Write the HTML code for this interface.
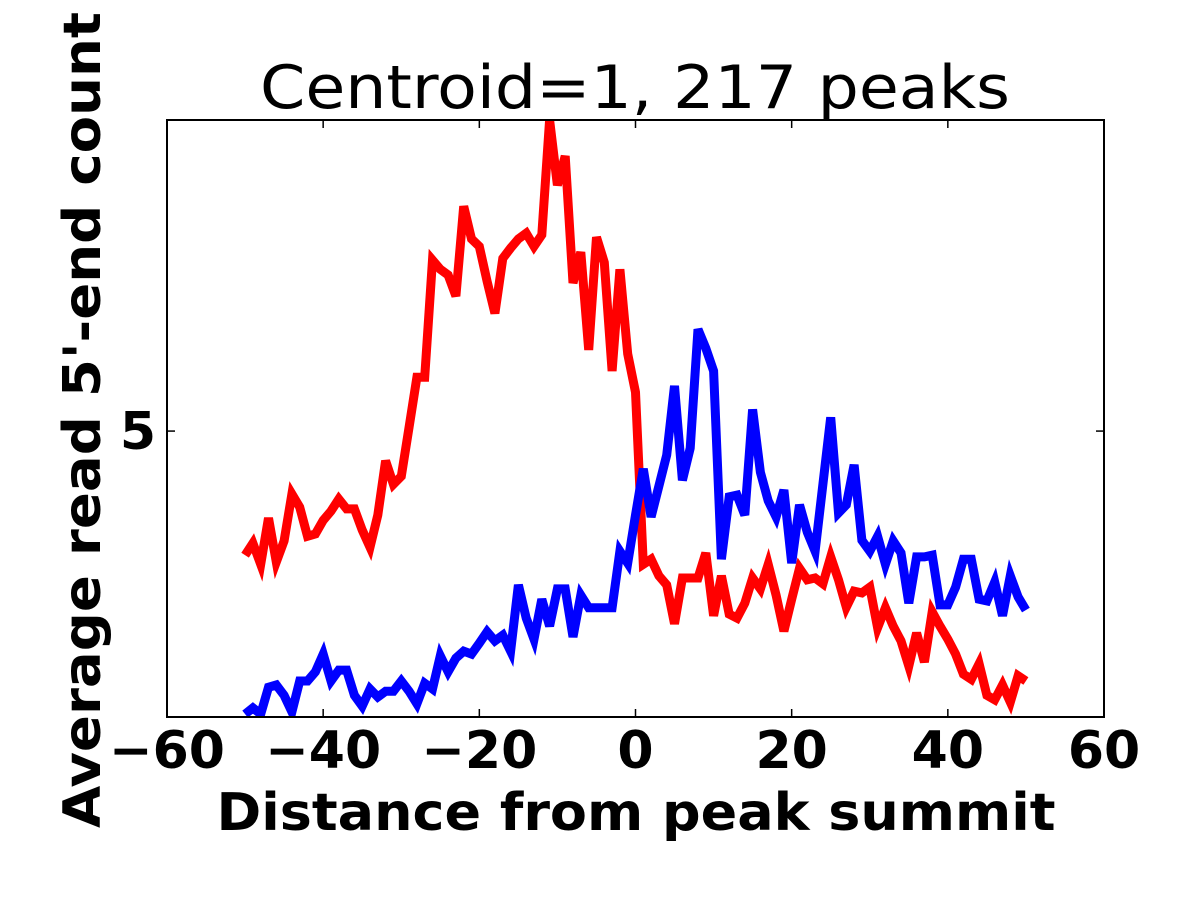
<!DOCTYPE html>
<html><head><meta charset="utf-8"><style>
html,body{margin:0;padding:0;background:#fff;}
svg{display:block;}
text{font-family:"DejaVu Sans","Liberation Sans",sans-serif;}
</style></head><body>
<svg id="chart" width="1200" height="900" viewBox="0 0 1200 900" xmlns="http://www.w3.org/2000/svg">
<rect width="1200" height="900" fill="#fff"/>
<text x="635" y="108" font-size="60" text-anchor="middle" textLength="750" lengthAdjust="spacingAndGlyphs">Centroid=1, 217 peaks</text>
<g id="plot"></g>
<rect x="167" y="120" width="937" height="597" fill="none" stroke="#000" stroke-width="2"/>
<text x="636" y="830" font-size="52" font-weight="bold" text-anchor="middle" textLength="839" lengthAdjust="spacingAndGlyphs">Distance from peak summit</text>
<text transform="translate(100,420) rotate(-90)" font-size="52" font-weight="bold" text-anchor="middle" textLength="816" lengthAdjust="spacingAndGlyphs">Average read 5'-end count</text>
</svg>
<script>
const xTicks = [-60, -40, -20, 0, 20, 40, 60];
const yTicks = [5];
const positions = [];
for (let i = -50; i <= 50; i++) positions.push(i);
const redValues = [2.83,3.04,2.67,3.48,2.71,3.08,3.90,3.67,3.16,3.20,3.44,3.60,3.81,3.64,3.64,3.27,2.97,3.53,4.48,4.07,4.21,5.07,5.94,5.94,7.99,7.83,7.73,7.36,8.93,8.36,8.23,7.62,7.06,8.02,8.20,8.36,8.46,8.23,8.43,10.44,9.30,9.81,7.59,8.13,6.42,8.39,7.95,6.05,7.83,6.35,5.68,
2.67,2.76,2.47,2.31,1.63,2.43,2.43,2.43,2.87,1.77,2.47,1.80,1.73,1.99,2.43,2.24,2.67,2.13,1.50,2.06,2.60,2.40,2.43,2.33,2.80,2.40,1.92,2.20,2.17,2.27,1.56,1.91,1.59,1.33,0.89,1.47,0.96,1.84,1.59,1.36,1.10,0.75,0.66,0.93,0.38,0.30,0.56,0.26,0.72,0.63];
const blueValues = [0.05,0.16,0.05,0.52,0.56,0.38,0.09,0.63,0.63,0.79,1.10,0.63,0.82,0.82,0.38,0.19,0.49,0.35,0.45,0.45,0.63,0.45,0.23,0.59,0.49,1.07,0.79,1.03,1.15,1.10,1.29,1.49,1.33,1.43,1.15,2.31,1.73,1.36,2.06,1.59,2.24,2.24,1.40,2.13,1.91,1.91,1.91,1.91,2.90,2.69,3.53,
4.34,3.50,4.04,4.58,5.79,4.14,4.70,6.78,6.45,6.05,2.76,3.85,3.88,3.53,5.38,4.28,3.78,3.50,3.97,2.69,3.71,3.23,2.90,4.07,5.24,3.57,3.71,4.41,3.09,2.90,3.16,2.67,3.08,2.87,1.99,2.80,2.80,2.83,1.96,1.96,2.27,2.76,2.76,2.06,2.03,2.36,1.77,2.47,2.10,1.87];

const NS = "http://www.w3.org/2000/svg";
const L = 167, R = 1104, T = 120, B = 717;
const xMin = -60, xMax = 60;
const yMin = 0, yMax = Math.max(...redValues, ...blueValues);
const xs = v => L + (v - xMin) / (xMax - xMin) * (R - L);
const ys = v => B - (v - yMin) / (yMax - yMin) * (B - T);
const svg = document.getElementById('chart');
const plot = document.getElementById('plot');

function mk(tag, attrs, parent) {
  const e = document.createElementNS(NS, tag);
  for (const k in attrs) e.setAttribute(k, attrs[k]);
  parent.appendChild(e);
  return e;
}

const cp = mk('clipPath', {id: 'clip'}, svg);
mk('rect', {x: L, y: T, width: R - L, height: B - T}, cp);

function series(vals, color, name) {
  const d = vals.map((v, i) => (i ? 'L' : 'M') + xs(positions[i]).toFixed(1) + ',' + ys(v).toFixed(1)).join(' ');
  const p = mk('path', {d: d, fill: 'none', stroke: color, 'stroke-width': 9, 'stroke-linejoin': 'miter', 'clip-path': 'url(#clip)'}, plot);
  
  
}
series(redValues, '#ff0000', 'red-series-line');
series(blueValues, '#0000ff', 'blue-series-line');

xTicks.forEach(t => {
  const x = xs(t);
  const a = mk('line', {x1: x, x2: x, y1: B, y2: B - 8, stroke: '#000', 'stroke-width': 1.5}, svg);
  
  
  const b = mk('line', {x1: x, x2: x, y1: T, y2: T + 8, stroke: '#000', 'stroke-width': 1.5}, svg);
  
  
  const tx = mk('text', {x: x, y: 768, 'font-size': 52, 'font-weight': 'bold', 'text-anchor': 'middle'}, svg);
  tx.textContent = t < 0 ? '\u2212' + Math.abs(t) : String(t);
  
  
});
yTicks.forEach(t => {
  const y = ys(t);
  const a = mk('line', {x1: L, x2: L + 8, y1: y, y2: y, stroke: '#000', 'stroke-width': 1.5}, svg);
  
  
  const b = mk('line', {x1: R, x2: R - 8, y1: y, y2: y, stroke: '#000', 'stroke-width': 1.5}, svg);
  
  
  const tx = mk('text', {x: 156, y: y + 18, 'font-size': 52, 'font-weight': 'bold', 'text-anchor': 'end'}, svg);
  tx.textContent = String(t);
  
  
});
</script>
</body></html>
